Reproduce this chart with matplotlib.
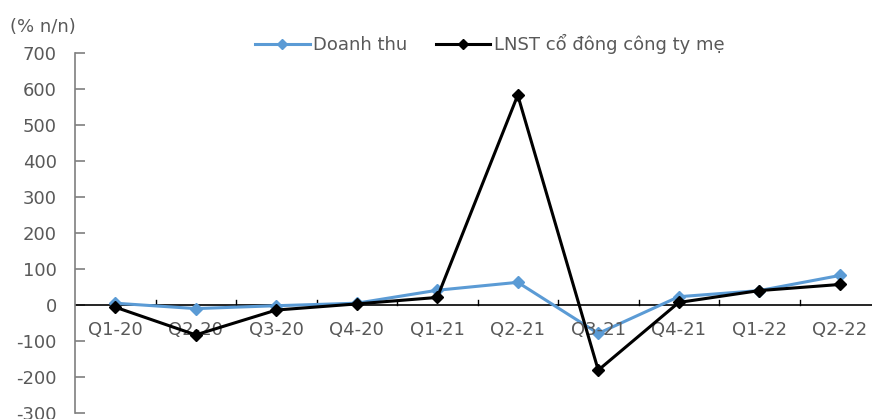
import matplotlib
matplotlib.use("Agg")
import matplotlib.pyplot as plt
from matplotlib.ticker import FixedLocator, NullFormatter

quarters = ["Q1-20", "Q2-20", "Q3-20", "Q4-20", "Q1-21",
            "Q2-21", "Q3-21", "Q4-21", "Q1-22", "Q2-22"]
doanh_thu = [5, -10, -2, 5, 41, 63, -79, 23, 40, 82]
lnst = [-6, -83, -14, 3, 21, 583, -181, 7, 40, 57]
y_ticks = list(range(-300, 701, 100))

text_color = "#595959"
plt.rcParams["font.family"] = ["DejaVu Sans"]
plt.rcParams["font.size"] = 13

fig = plt.figure(figsize=(8.72, 4.19), dpi=100)
ax = fig.add_axes([75 / 872, 6 / 419, (880 - 75) / 872, (413 - 53) / 419])

x = list(range(len(quarters)))
ax.plot(x, doanh_thu, color="#5b9bd5", lw=2.2, marker="D", ms=6,
        label="Doanh thu", zorder=3)
ax.plot(x, lnst, color="black", lw=2.2, marker="D", ms=6,
        label="LNST cổ đông công ty mẹ", zorder=4)

ax.set_xlim(-0.5, len(quarters) - 0.5)
ax.set_ylim(-300, 700)
ax.set_yticks(y_ticks)
ax.set_yticklabels([str(v) for v in y_ticks])

# category axis drawn along the zero line
for s in ["top", "right", "bottom"]:
    ax.spines[s].set_visible(False)
ax.spines["left"].set_color("#7f7f7f")
ax.spines["left"].set_linewidth(1.2)
ax.axhline(0, color="black", lw=1.2, zorder=2)

ax.tick_params(axis="y", direction="in", length=7, width=1.2,
               color="#7f7f7f", labelcolor=text_color, labelsize=13, pad=13)
ax.xaxis.set_major_locator(FixedLocator([i + 0.5 for i in range(len(quarters) - 1)]))
ax.xaxis.set_major_formatter(NullFormatter())
ax.tick_params(axis="x", length=0)
for i in range(len(quarters) - 1):
    ax.plot([i + 0.5, i + 0.5], [0, 14], color="black", lw=1.0, zorder=2,
            clip_on=False)
for i, q in enumerate(quarters):
    ax.text(i, -70, q, ha="center", va="center", color=text_color, fontsize=13)

fig.text(10 / 872, 1 - 27 / 419, "(% n/n)", ha="left", va="center",
         color=text_color, fontsize=13)

leg = fig.legend(loc="center", bbox_to_anchor=(490 / 872, 1 - 44 / 419),
                 ncol=2, frameon=False, fontsize=13, handlelength=3.0,
                 handletextpad=0.2, columnspacing=1.6, markerscale=0.8)
for t in leg.get_texts():
    t.set_color(text_color)

fig.savefig("out.png", dpi=100)
